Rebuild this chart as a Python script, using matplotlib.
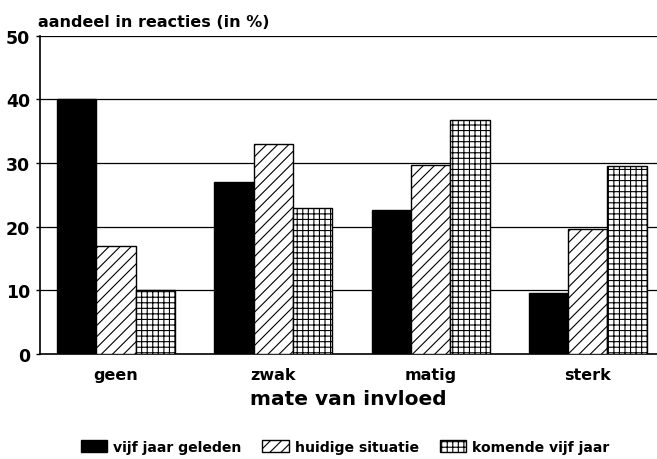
import numpy as np
import matplotlib.pyplot as plt
from matplotlib.patches import Patch

# data
categories = ['geen', 'zwak', 'matig', 'sterk']
vijf_jaar_geleden = [40, 27, 22.7, 9.6]
huidige_situatie = [17, 33, 29.7, 19.6]
komende_vijf_jaar = [10, 23, 36.7, 29.6]
yticks = [0, 10, 20, 30, 40, 50]

plt.rcParams['font.family'] = ['DejaVu Sans']
plt.rcParams['font.weight'] = 'bold'
plt.rcParams['hatch.linewidth'] = 0.8

fig = plt.figure(figsize=(6.57, 4.6), dpi=100)
ax = fig.add_axes([0.061, 0.228, 0.939, 0.692])

x = np.arange(len(categories))
w = 0.25
ax.bar(x - w, vijf_jaar_geleden, w, color='black', edgecolor='black', lw=1, zorder=3)
ax.bar(x, huidige_situatie, w, color='white', edgecolor='black', hatch='///', lw=1, zorder=3)
ax.bar(x + w, komende_vijf_jaar, w, color='white', edgecolor='black', hatch='+++', lw=1, zorder=3)

ax.set_xlim(-0.483, 3.44)
ax.set_ylim(0, 50)
ax.set_yticks(yticks)
ax.set_yticklabels([str(t) for t in yticks], fontsize=12.5, fontweight='bold')
ax.set_xticks(x)
ax.set_xticklabels(categories, fontsize=11.5, fontweight='bold')
ax.tick_params(axis='x', length=0, pad=9)
ax.tick_params(axis='y', length=3, width=1, pad=4)

# horizontal grid lines
for t in yticks[1:]:
    ax.axhline(t, color='black', lw=0.9, zorder=1)

for s in ['top', 'right']:
    ax.spines[s].set_visible(False)
ax.spines['left'].set_linewidth(1.2)
ax.spines['bottom'].set_linewidth(1.2)

ax.set_xlabel('mate van invloed', fontsize=14.5, fontweight='bold', labelpad=5)
fig.text(0.058, 0.941, 'aandeel in reacties (in %)', fontsize=11.5,
         fontweight='bold', va='baseline')

handles = [
    Patch(facecolor='black', edgecolor='black', label='vijf jaar geleden'),
    Patch(facecolor='white', edgecolor='black', hatch='///', label='huidige situatie'),
    Patch(facecolor='white', edgecolor='black', hatch='+++', label='komende vijf jaar'),
]
fig.legend(handles=handles, loc='center', bbox_to_anchor=(0.525, 0.027), ncol=3,
           frameon=False, handlelength=1.9, handleheight=0.9,
           handletextpad=0.4, columnspacing=1.5,
           prop={'weight': 'bold', 'size': 10.1})

fig.savefig('out.png', dpi=100)
